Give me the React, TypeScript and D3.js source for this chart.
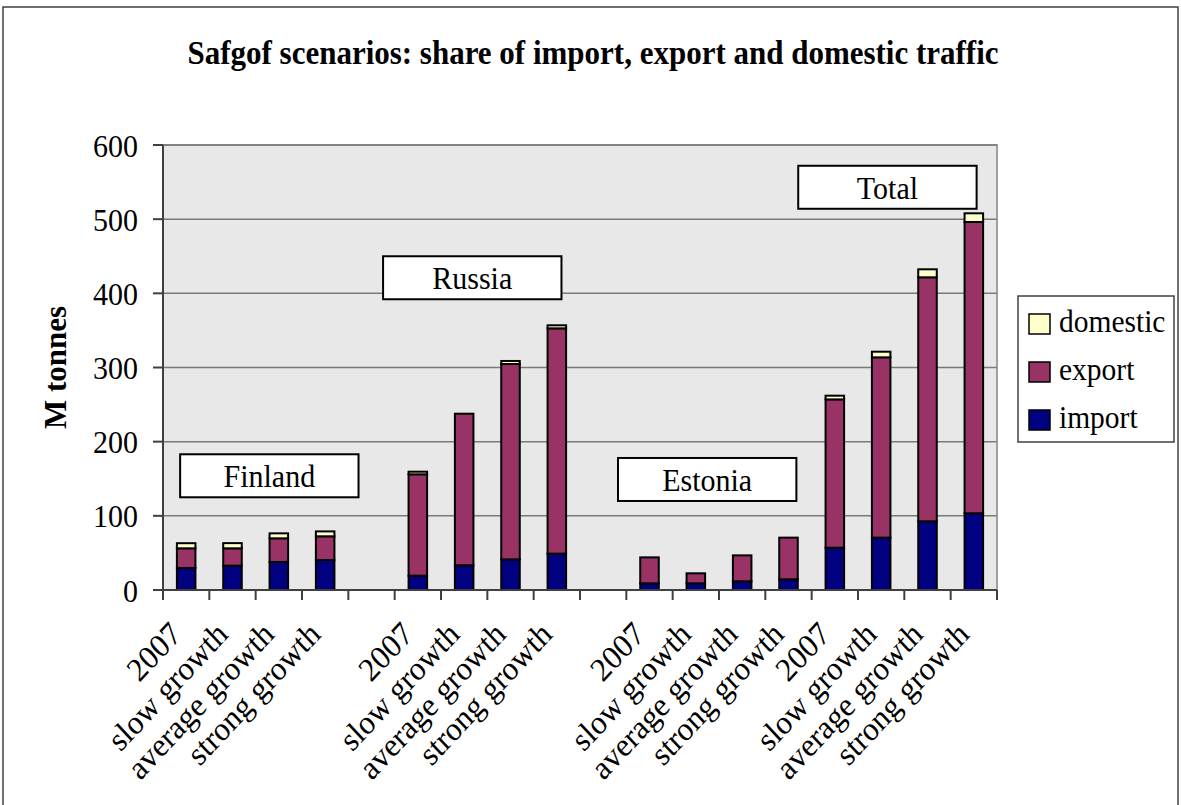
import { useEffect, useRef } from 'react';
import * as d3 from 'd3';

const categories = [
  '2007', 'slow growth', 'average growth', 'strong growth', '',
  '2007', 'slow growth', 'average growth', 'strong growth', '',
  '2007', 'slow growth', 'average growth', 'strong growth',
  '2007', 'slow growth', 'average growth', 'strong growth',
];

const importVals = [29.7, 32.8, 37.8, 40.4, 0, 19.3, 33.3, 41.3, 49, 0, 9, 9, 11.7, 14.4, 57, 70.6, 92.6, 103.4];
const exportVals = [26.5, 23.4, 31.9, 32, 0, 136.7, 204.4, 263.4, 303.8, 0, 35, 13.5, 35, 56.2, 200, 243.1, 329, 392.8];
const domesticVals = [6.9, 7, 6.7, 6.6, 0, 3.5, 0, 4.1, 4.1, 0, 0, 0, 0, 0, 5, 7.6, 10.8, 11.7];

const seriesNames = ['import', 'export', 'domestic'];
const seriesColors = ['#000080', '#993366', '#ffffcc'];
const legendOrder = ['domestic', 'export', 'import'];

const yTicks = [0, 100, 200, 300, 400, 500, 600];

// group labels: slot position of the box and the value at its top edge
const groupNames = ['Finland', 'Russia', 'Estonia', 'Total'];
const groupBoxStart = [0.37, 4.75, 9.82, 13.71];
const groupBoxTop = [183, 450, 178, 572];

const FONT = '"Liberation Serif", "Times New Roman", serif';
// the reference text is a little taller than it is wide
const SY = 1.07;

export default function App() {
  const svgRef = useRef<SVGSVGElement>(null);
  const width = 1181;
  const height = 805;

  useEffect(() => {
    if (!svgRef.current) return;
    const svg = d3.select(svgRef.current);
    svg.selectAll('*').remove();

    const plot = { left: 163, right: 997, top: 145, bottom: 590 };

    const x = d3
      .scaleBand<number>()
      .domain(categories.map((_, i) => i))
      .range([plot.left, plot.right])
      .paddingInner(0.6)
      .paddingOuter(0.3);

    const slot = d3.scaleLinear().domain([0, categories.length]).range([plot.left, plot.right]);

    const y = d3.scaleLinear().domain([0, 600]).range([plot.bottom, plot.top]);

    const at = (tx: number, ty: number, extra = '') => `translate(${tx},${ty}) scale(1,${SY})${extra}`;

    // ── Outer frame ──
    svg
      .append('rect')
      .attr('x', 3)
      .attr('y', 7)
      .attr('width', 1175)
      .attr('height', 830)
      .attr('fill', 'white')
      .attr('stroke', '#404040')
      .attr('stroke-width', 1.5);

    // ── Title ──
    svg
      .append('text')
      .attr('transform', at(593, 64))
      .attr('text-anchor', 'middle')
      .attr('font-family', FONT)
      .attr('font-weight', 'bold')
      .attr('font-size', '31px')
      .text('Safgof scenarios: share of import, export and domestic traffic');

    // ── Plot background ──
    svg
      .append('rect')
      .attr('x', plot.left)
      .attr('y', plot.top)
      .attr('width', plot.right - plot.left)
      .attr('height', plot.bottom - plot.top)
      .attr('fill', '#e8e8e8')
      .attr('stroke', '#a0a0a0')
      .attr('stroke-width', 2);

    // ── Grid ──
    svg
      .selectAll('line.grid')
      .data(yTicks.slice(1))
      .enter()
      .append('line')
      .attr('class', 'grid')
      .attr('x1', plot.left)
      .attr('x2', plot.right)
      .attr('y1', (d) => y(d))
      .attr('y2', (d) => y(d))
      .attr('stroke', '#7a7a7a')
      .attr('stroke-width', 1.5);

    // ── Bars ──
    const stacked = d3
      .stack<number>()
      .keys(['0', '1', '2'])
      .value((i, key) => [importVals, exportVals, domesticVals][+key][i])(categories.map((_, i) => i));

    stacked.forEach((layer, si) => {
      svg
        .selectAll(`rect.bar-${si}`)
        .data(layer.filter((d) => d[1] - d[0] > 0))
        .enter()
        .append('rect')
        .attr('class', `bar-${si}`)
        .attr('x', (d) => x(d.data)!)
        .attr('width', x.bandwidth())
        .attr('y', (d) => y(d[1]))
        .attr('height', (d) => y(d[0]) - y(d[1]))
        .attr('fill', seriesColors[si])
        .attr('stroke', '#000')
        .attr('stroke-width', 2);
    });

    // ── Axes ──
    svg
      .append('line')
      .attr('x1', plot.left)
      .attr('x2', plot.left)
      .attr('y1', plot.top)
      .attr('y2', plot.bottom)
      .attr('stroke', '#404040')
      .attr('stroke-width', 2);
    svg
      .append('line')
      .attr('x1', plot.left)
      .attr('x2', plot.right)
      .attr('y1', plot.bottom)
      .attr('y2', plot.bottom)
      .attr('stroke', '#404040')
      .attr('stroke-width', 2);

    svg
      .selectAll('line.ytick')
      .data(yTicks)
      .enter()
      .append('line')
      .attr('class', 'ytick')
      .attr('x1', plot.left - 10)
      .attr('x2', plot.left)
      .attr('y1', (d) => y(d))
      .attr('y2', (d) => y(d))
      .attr('stroke', '#404040')
      .attr('stroke-width', 2);

    svg
      .selectAll('text.ylabel')
      .data(yTicks)
      .enter()
      .append('text')
      .attr('class', 'ylabel')
      .attr('transform', (d) => at(plot.left - 25, y(d) + 11.5))
      .attr('text-anchor', 'end')
      .attr('font-family', FONT)
      .attr('font-size', '30px')
      .text((d) => d);

    svg
      .selectAll('line.xtick')
      .data(d3.range(categories.length + 1))
      .enter()
      .append('line')
      .attr('class', 'xtick')
      .attr('x1', (d) => slot(d))
      .attr('x2', (d) => slot(d))
      .attr('y1', plot.bottom)
      .attr('y2', plot.bottom + 10)
      .attr('stroke', '#404040')
      .attr('stroke-width', 2);

    svg
      .selectAll('text.xlabel')
      .data(categories)
      .enter()
      .append('text')
      .attr('class', 'xlabel')
      .attr('text-anchor', 'end')
      .attr('font-family', FONT)
      .attr('font-size', '31px')
      .attr('transform', (_, i) => at(x(i)! + x.bandwidth() / 2 - 3, plot.bottom + 46, ' rotate(-45)'))
      .text((d) => d);

    // ── Y axis title ──
    svg
      .append('text')
      .attr('transform', `translate(66,${(plot.top + plot.bottom) / 2}) rotate(-90)`)
      .attr('text-anchor', 'middle')
      .attr('font-family', FONT)
      .attr('font-weight', 'bold')
      .attr('font-size', '31px')
      .text('M tonnes');

    // ── Group label boxes ──
    const boxW = slot(3.85) - slot(0);
    const boxH = 43;
    groupNames.forEach((name, i) => {
      const bx = slot(groupBoxStart[i]);
      const by = y(groupBoxTop[i]);
      svg
        .append('rect')
        .attr('x', bx)
        .attr('y', by)
        .attr('width', boxW)
        .attr('height', boxH)
        .attr('fill', 'white')
        .attr('stroke', '#000')
        .attr('stroke-width', 2);
      svg
        .append('text')
        .attr('transform', at(bx + boxW / 2, by + boxH / 2 + 11.5))
        .attr('text-anchor', 'middle')
        .attr('font-family', FONT)
        .attr('font-size', '30px')
        .text(name);
    });

    // ── Legend ──
    const legend = svg.append('g').attr('transform', 'translate(1018,296)');
    legend
      .append('rect')
      .attr('width', 156)
      .attr('height', 146)
      .attr('fill', 'white')
      .attr('stroke', '#404040')
      .attr('stroke-width', 1.5);
    legendOrder.forEach((name, i) => {
      const si = seriesNames.indexOf(name);
      legend
        .append('rect')
        .attr('x', 11)
        .attr('y', 18 + i * 48)
        .attr('width', 21)
        .attr('height', 20)
        .attr('fill', seriesColors[si])
        .attr('stroke', '#000')
        .attr('stroke-width', 1.5);
      legend
        .append('text')
        .attr('transform', at(41, 36 + i * 48))
        .attr('font-family', FONT)
        .attr('font-size', '29.5px')
        .text(name);
    });
  }, []);

  return (
    <svg
      ref={svgRef}
      width={width}
      height={height}
      style={{ position: 'absolute', left: 0, top: 0, display: 'block', background: 'white' }}
    />
  );
}
